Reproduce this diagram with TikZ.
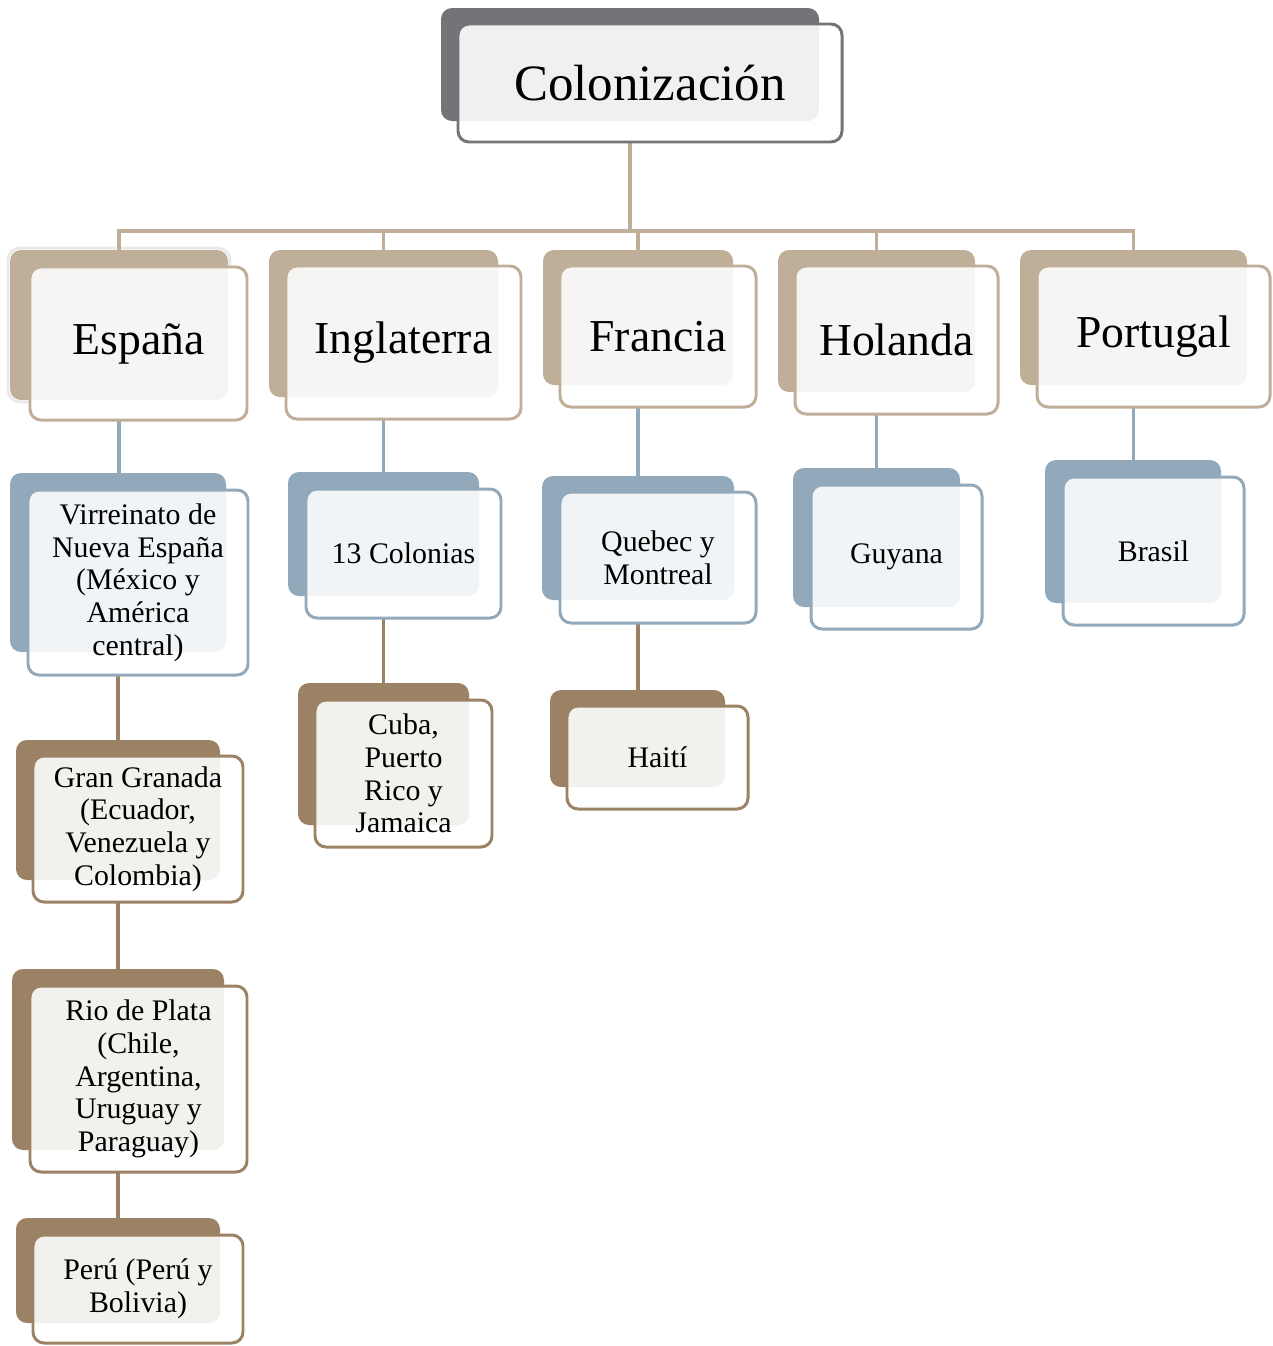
\documentclass[tikz,border=0pt]{standalone}
\usepackage{fontspec}
\setmainfont{Liberation Serif}
\usetikzlibrary{fit}
\pgfdeclarelayer{bg}
\pgfsetlayers{bg,main}
\definecolor{greyD}{HTML}{737378}
\definecolor{greyL}{HTML}{F0F0F0}
\definecolor{tanD}{HTML}{BFAE98}
\definecolor{tanL}{HTML}{F6F5F3}
\definecolor{blueD}{HTML}{91A9BA}
\definecolor{blueL}{HTML}{F1F4F6}
\definecolor{brownD}{HTML}{9C8265}
\definecolor{brownL}{HTML}{F2F1EE}
\newcommand\fTop{\fontsize{29}{34}\selectfont}
\newcommand\fOne{\fontsize{26}{30}\selectfont}
\newcommand\fTwo{\fontsize{17}{18.6}\selectfont}
\newcommand\cbox[8]{%
  \node[inner sep=0pt, outer sep=0pt, fit={#3 #4}, fill=#2D, rounded corners=2.2mm] (#1b) {};
  \node[inner sep=0pt, outer sep=0pt, fit={#5 #6}, fill=white, rounded corners=2.2mm] (#1) {};
  \begin{scope}
    \clip[rounded corners=2.2mm] #5 rectangle #6;
    \fill[#2L, rounded corners=2.2mm] #3 rectangle #4;
  \end{scope}
  \draw[#2D, line width=1.7pt, rounded corners=2.2mm] #5 rectangle #6;
  \node[align=center, font=#8, inner sep=0pt] (#1t) at (#1.center) {#7};
}
\tikzset{
  conn/.style={line width=2.1pt},
}
\begin{document}
\begin{tikzpicture}[x=0.02cm, y=-0.02cm]
\useasboundingbox (0,0) rectangle (1272,1346);
% top
\cbox{col}{grey}{(441,8)}{(819,121)}{(458,24)}{(842,142)}{Colonización}{\fTop}
% level 1
\cbox{esp}{tan}{(10,250)}{(228,400)}{(30,267)}{(247,420)}{\raisebox{-6pt}{España}}{\fOne}
\cbox{ing}{tan}{(269,250)}{(498,397)}{(286,266)}{(521,419)}{\raisebox{-2pt}{Inglaterra}}{\fOne}
\cbox{fra}{tan}{(543,250)}{(733,385)}{(560,266)}{(756,407)}{Francia}{\fOne}
\cbox{hol}{tan}{(778,250)}{(975,392)}{(795,266)}{(998,414)}{Holanda}{\fOne}
\cbox{por}{tan}{(1020,250)}{(1247,385)}{(1037,266)}{(1270,407)}{Portugal}{\fOne}
% level 2
\cbox{vir}{blue}{(10,473)}{(226,652)}{(28,490)}{(248,675)}{Virreinato de\\Nueva España\\(México y\\América\\central)}{\fTwo}
\cbox{tre}{blue}{(288,472)}{(479,596)}{(306,489)}{(501,618)}{13 Colonias}{\fTwo}
\cbox{que}{blue}{(542,476)}{(734,600)}{(560,492)}{(756,623)}{Quebec y\\Montreal}{\fTwo}
\cbox{guy}{blue}{(793,468)}{(960,607)}{(811,485)}{(982,629)}{Guyana}{\fTwo}
\cbox{bra}{blue}{(1045,460)}{(1221,603)}{(1063,477)}{(1244,625)}{Brasil}{\fTwo}
% level 3
\cbox{gra}{brown}{(16,740)}{(220,880)}{(33,756)}{(243,902)}{Gran Granada\\(Ecuador,\\Venezuela y\\Colombia)}{\fTwo}
\cbox{cub}{brown}{(298,683)}{(469,825)}{(315,700)}{(492,847)}{Cuba,\\Puerto\\Rico y\\Jamaica}{\fTwo}
\cbox{hai}{brown}{(550,690)}{(725,787)}{(567,706)}{(748,809)}{Haití}{\fTwo}
% level 4
\cbox{rio}{brown}{(12,969)}{(224,1150)}{(30,986)}{(247,1172)}{Rio de Plata\\(Chile,\\Argentina,\\Uruguay y\\Paraguay)}{\fTwo}
\cbox{per}{brown}{(16,1218)}{(220,1323)}{(33,1235)}{(243,1343)}{Perú (Perú y\\Bolivia)}{\fTwo}
\coordinate (bar) at (630,231);
\begin{pgfonlayer}{bg}
\draw[gray!18, line width=1.5pt, rounded corners=2.4mm] (8,248) rectangle (230,402);
\draw[conn, tanD] (colb.south) -- (bar) -| (espb.north);
\draw[conn, tanD] (colb.south) -- (bar) -| (ingb.north);
\draw[conn, tanD] (colb.south) -- (bar) -| (frab.north);
\draw[conn, tanD] (colb.south) -- (bar) -| (holb.north);
\draw[conn, tanD] (colb.south) -- (bar) -| (porb.north);
\draw[conn, blueD] (espb.south) -- (espb.south |- virb.north);
\draw[conn, blueD] (ingb.south) -- (ingb.south |- treb.north);
\draw[conn, blueD] (frab.south) -- (frab.south |- queb.north);
\draw[conn, blueD] (holb.south) -- (holb.south |- guyb.north);
\draw[conn, blueD] (porb.south) -- (porb.south |- brab.north);
\draw[conn, brownD] (virb.south) -- (virb.south |- grab.north);
\draw[conn, brownD] (treb.south) -- (treb.south |- cubb.north);
\draw[conn, brownD] (queb.south) -- (queb.south |- haib.north);
\draw[conn, brownD] (grab.south) -- (grab.south |- riob.north);
\draw[conn, brownD] (riob.south) -- (riob.south |- perb.north);
\end{pgfonlayer}
\end{tikzpicture}
\end{document}
